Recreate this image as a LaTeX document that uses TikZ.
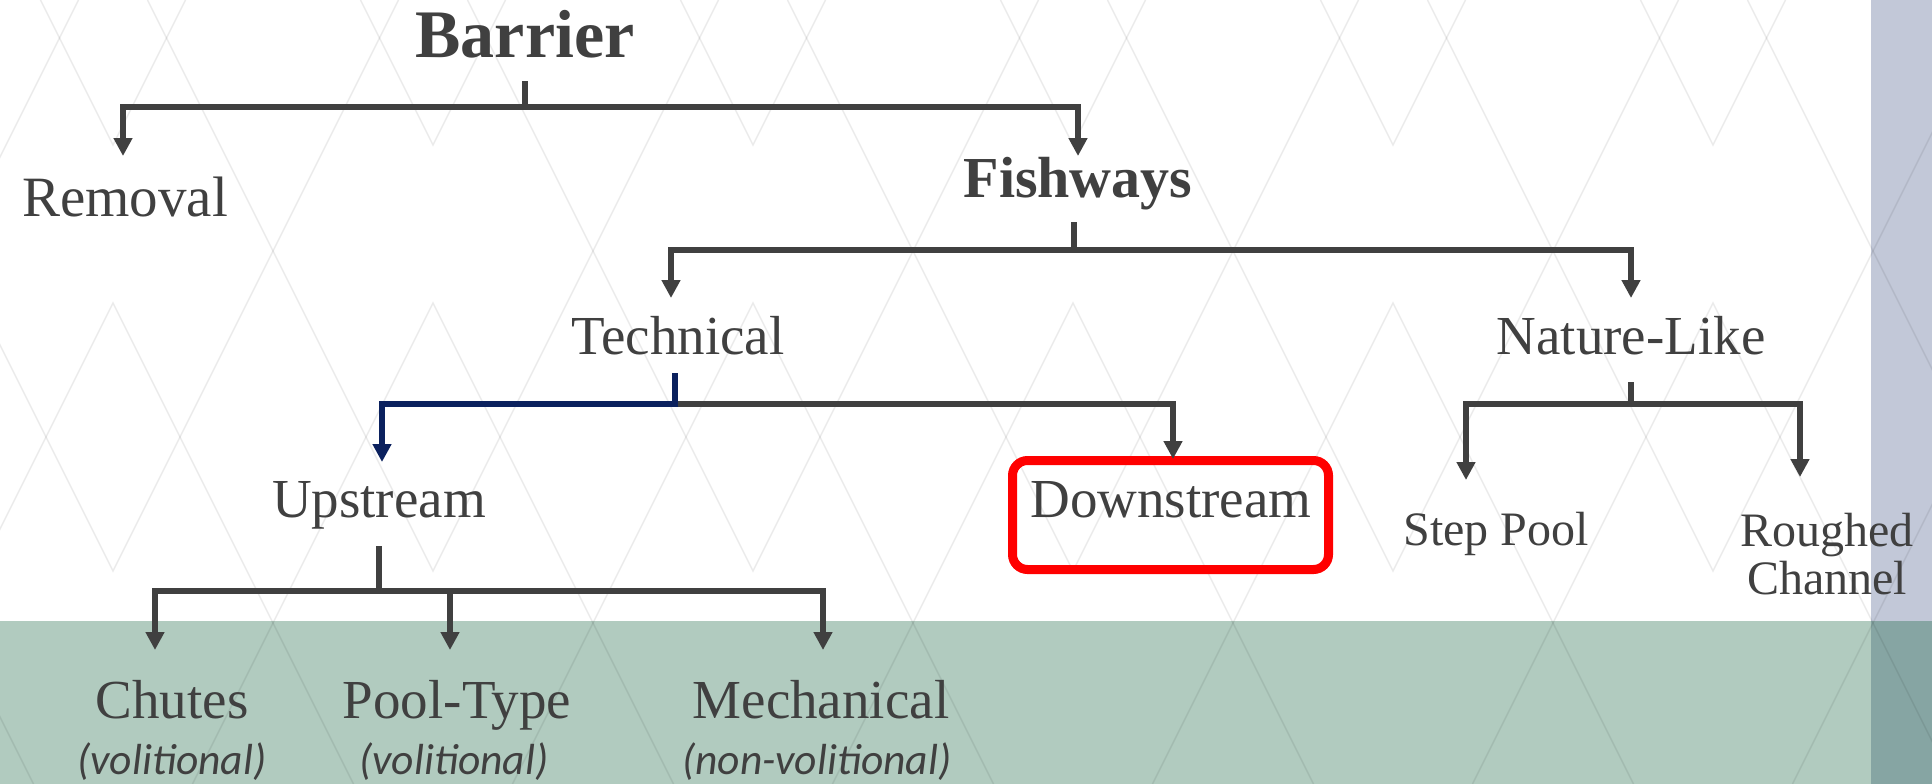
\documentclass[tikz,border=0pt]{standalone}
\usepackage{fontspec}
\setmainfont{Liberation Serif}
\newfontfamily\carlito{Carlito}
\usetikzlibrary{arrows.meta,calc}
\definecolor{ink}{HTML}{404040}
\definecolor{navy}{HTML}{0B215E}
\definecolor{bandgreen}{HTML}{B1CBBF}
\definecolor{slate}{HTML}{C2C8D8}
\definecolor{cornerteal}{HTML}{86A5A3}
\definecolor{hilite}{HTML}{FF0000}
\begin{document}
\begin{tikzpicture}[x=1pt,y=-1pt,
  link/.style={draw=ink,line width=6pt},
  arr/.style={link,-{Triangle[length=18pt,width=18pt]}},
  arrblue/.style={draw=navy,line width=6pt,-{Triangle[length=18pt,width=18pt]}},
  pat/.style={draw=black,draw opacity=0.08,line width=1.5pt},
  lbl/.style={text=ink,inner sep=0pt,anchor=base},
  big/.style={font=\fontsize{55}{60}\selectfont},
  mid/.style={font=\fontsize{48}{50}\selectfont},
  note/.style={font=\carlito\itshape\fontsize{43.5}{46}\selectfont},
]
\useasboundingbox (0,0) rectangle (1932,784);
% background
\fill[white] (0,0) rectangle (1932,784);
\fill[bandgreen] (0,621) rectangle (1932,784);
\fill[slate] (1871,0) rectangle (1932,621);
\fill[cornerteal] (1871,621) rectangle (1932,784);
\begin{scope}
  \clip (0,0) rectangle (1932,784);
  \foreach \k in {-1,...,7}{
    \pgfmathsetmacro\xk{113+320*\k}
    \draw[pat] (\xk-72.5,0) -- (\xk,145) -- (\xk+72.5,0);
    \draw[pat] (\xk-240.5,784) -- (\xk,303) -- (\xk+240.5,784);
    \draw[pat] (\xk-285.5,0) -- (\xk,571) -- (\xk+285.5,0);
  }
\end{scope}

% nodes
\node[lbl,font=\bfseries\fontsize{68}{70}\selectfont] (barrier) at (525,58) {Barrier};
\node[lbl,font=\fontsize{57}{60}\selectfont] (removal) at (125,216) {Removal};
\node[lbl,font=\bfseries\fontsize{58}{60}\selectfont] (fishways) at (1078,197) {Fishways};
\node[lbl,big] (technical) at (678,354) {Technical};
\node[lbl,big] (nature) at (1631,354) {Nature-Like};
\node[lbl,big] (upstream) at (379,517) {Upstream};
\node[lbl,big] (downstream) at (1171,517) {Downstream};
\node[draw=hilite,line width=9pt,rounded corners=15pt,minimum width=316pt,minimum height=109pt,inner sep=0pt] (box) at (1170.5,515) {};
\node[lbl,mid] (step) at (1496,545) {Step Pool};
\node[lbl,mid] (rough) at (1827,546) {Roughed};
\node[lbl,mid] (rough2) at (1827,594) {Channel};
\node[lbl,big] (chutes) at (172,718) {Chutes};
\node[lbl,big] (pool) at (457,718) {Pool-Type};
\node[lbl,big] (mech) at (821,718) {Mechanical};
\node[lbl,note] (vol1) at (172,774) {(volitional)};
\node[lbl,note] (vol2) at (454,774) {(volitional)};
\node[lbl,note] (vol3) at (817,774) {(non-volitional)};

% connectors
\draw[link] (barrier.base |- 0,81) -- (barrier.base |- 0,107);
\draw[arr] (barrier.base |- 0,107) -| ($(removal.base |- 0,156)+(-2,0)$);
\draw[arr] (barrier.base |- 0,107) -| (fishways.base |- 0,156);

\draw[link] ($(fishways.base |- 0,222)+(-4,0)$) -- ($(fishways.base |- 0,250)+(-4,0)$);
\draw[arr] ($(fishways.base |- 0,250)+(-4,0)$) -| ($(technical.base |- 0,298)+(-7,0)$);
\draw[arr] ($(fishways.base |- 0,250)+(-4,0)$) -| (nature.base |- 0,298);

\draw[arr] ($(technical.base |- 0,404)+(-3,0)$) -| ($(downstream.base |- 0,459)+(2,0)$);
\draw[arrblue] ($(technical.base |- 0,373)+(-3,0)$) -- ($(technical.base |- 0,404)+(-3,0)$) -| ($(upstream.base |- 0,462)+(3,0)$);

\draw[link] (nature.base |- 0,382) -- (nature.base |- 0,404);
\draw[arr] (nature.base |- 0,404) -| ($(step.base |- 0,480)+(-30,0)$);
\draw[arr] (nature.base |- 0,404) -| ($(rough.base |- 0,477)+(-27,0)$);

\draw[link] (upstream.base |- 0,546) -- (upstream.base |- 0,591);
\draw[arr] (upstream.base |- 0,591) -| ($(chutes.base |- 0,650)+(-17,0)$);
\draw[arr] (upstream.base |- 0,591) -| ($(pool.base |- 0,650)+(-7,0)$);
\draw[arr] (upstream.base |- 0,591) -| ($(mech.base |- 0,650)+(2,0)$);
\end{tikzpicture}
\end{document}
